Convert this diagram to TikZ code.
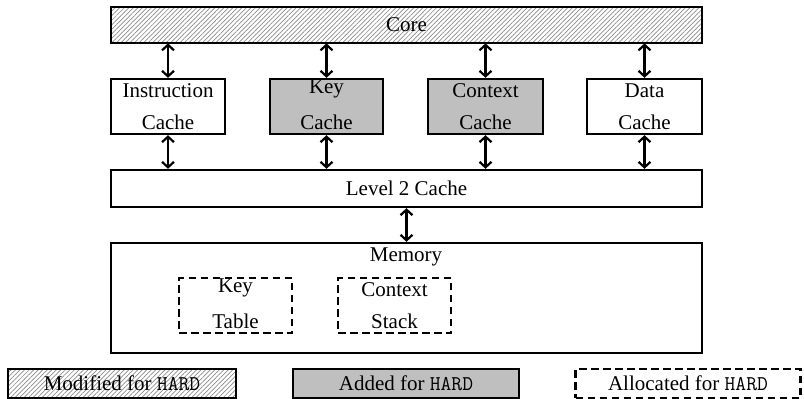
\documentclass[tikz,border=0pt]{standalone}
\usepackage{fontspec}
\setmainfont{Liberation Serif}
\usetikzlibrary{arrows.meta,patterns.meta}

% lift a word that has a descender so it sits like the others
\newcommand{\liftword}[1]{\raisebox{4pt}[\height][\depth]{#1}}
\newcommand{\hard}{\texttt{HARD}}

\tikzset{
  unit/.style={draw, line width=2.4pt, inner sep=0pt, align=center,
               font=\fontsize{21}{32}\selectfont},
  modified/.style={unit, pattern={Lines[angle=45,distance=3.2pt,line width=0.7pt]},
                   pattern color=black!45},
  added/.style={unit, fill=black!25},
  allocated/.style={unit, dash pattern=on 7.5pt off 4.5pt},
  biarrow/.style={line width=2.2pt,
                  {Straight Barb[length=5.5pt,width=12pt]}-{Straight Barb[length=5.5pt,width=12pt]}},
}

\begin{document}
\begin{tikzpicture}[x=1pt, y=-1pt]
  \useasboundingbox (0,0) rectangle (804,399);

  % processor core and first-level caches
  \node[modified, minimum width=591pt, minimum height=36pt] (core) at (406.5,25) {Core};

  \node[unit,  minimum width=114pt, minimum height=55pt] (icache) at (168,106.5)   {Instruction\\Cache};
  \node[added, minimum width=113pt, minimum height=55pt] (kcache) at (326.5,106.5) {\liftword{Key}\\Cache};
  \node[added, minimum width=115pt, minimum height=55pt] (ccache) at (485.5,106.5) {Context\\Cache};
  \node[unit,  minimum width=115pt, minimum height=55pt] (dcache) at (644.5,106.5) {Data\\Cache};

  % shared second level and main memory
  \node[unit, minimum width=591pt, minimum height=37pt] (l2) at (406.5,188.5) {Level 2 Cache};

  \node[unit, minimum width=591pt, minimum height=110pt] (mem) at (406.5,298) {};
  \node[font=\fontsize{21}{32}\selectfont, anchor=base, inner sep=0pt] (memlabel) at (406,261) {Memory};

  \node[allocated, minimum width=113pt, minimum height=55pt] (ktable) at (235.5,305.5) {\liftword{Key}\\Table};
  \node[allocated, minimum width=113pt, minimum height=55pt] (cstack) at (394.5,305.5) {Context\\Stack};

  % data paths
  \foreach \c in {icache,kcache,ccache,dcache}{
    \draw[biarrow] (core.south -| \c.north) -- (\c.north);
    \draw[biarrow] (\c.south) -- (l2.north -| \c.south);
  }
  \draw[biarrow] (l2.south) -- (mem.north);

  % legend
  \node[modified,  minimum width=228pt, minimum height=29pt] (legmod)   at (122,383.5) {Modified for \hard};
  \node[added,     minimum width=226pt, minimum height=29pt] (legadd)   at (406,383.5) {Added for \hard};
  \node[allocated, minimum width=225pt, minimum height=29pt] (legalloc) at (688,383.5) {Allocated for \hard};
\end{tikzpicture}
\end{document}
